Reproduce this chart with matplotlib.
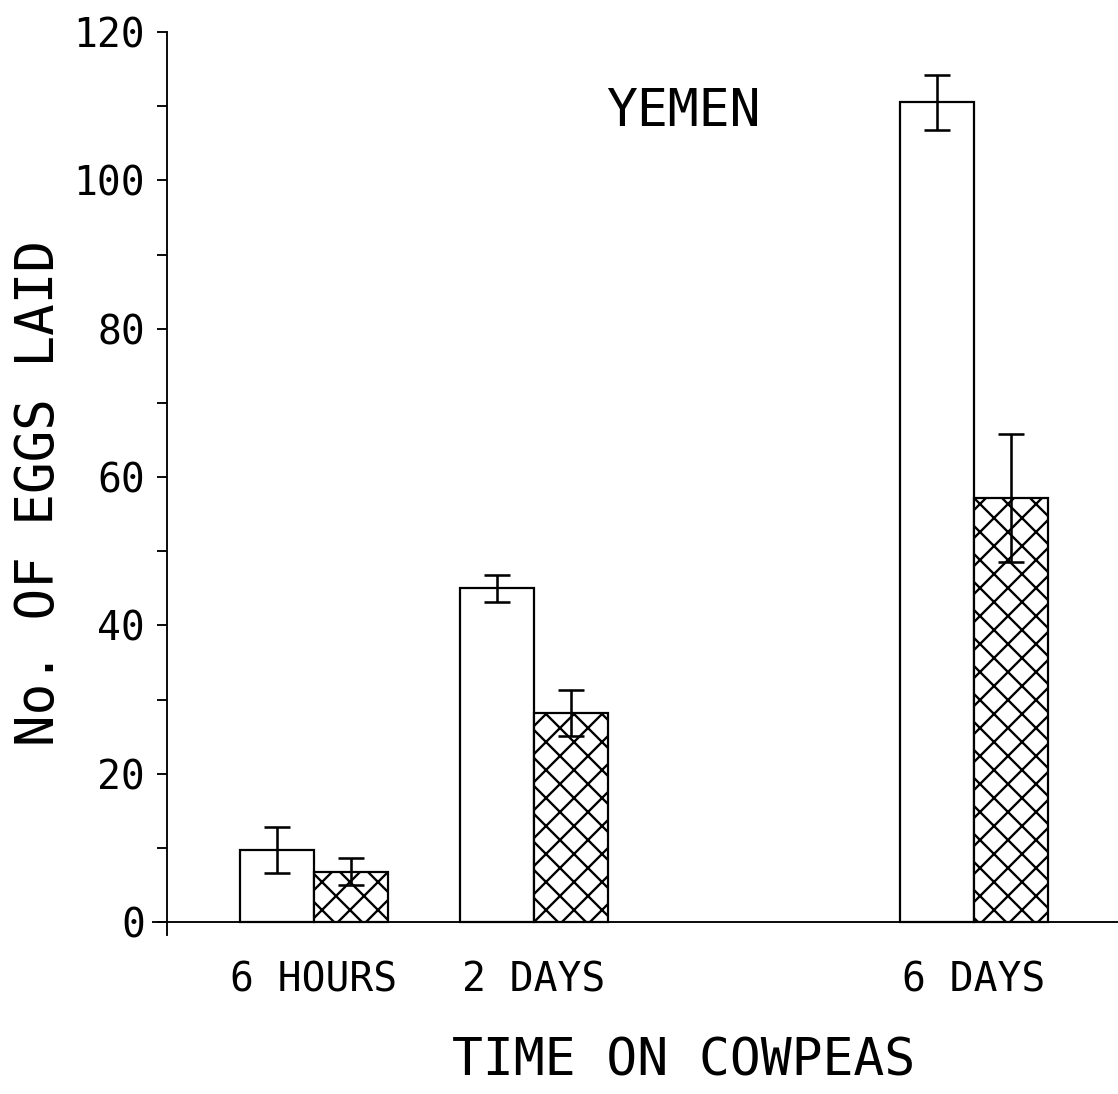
import numpy as np
import matplotlib
matplotlib.use("Agg")
import matplotlib.pyplot as plt

plt.rcParams['font.family'] = ['DejaVu Sans Mono']
plt.rcParams['hatch.linewidth'] = 1.0

# data
groups = ['6 HOURS', '2 DAYS', '6 DAYS']
group_pos = [0, 1, 3]
open_vals = [9.7, 45.0, 110.5]
open_err = [3.1, 1.85, 3.65]
hatch_vals = [6.8, 28.2, 57.2]
hatch_err = [1.85, 3.1, 8.6]
yticks = [0, 20, 40, 60, 80, 100, 120]

dpi = 168
fig = plt.figure(figsize=(1118 / dpi, 1094 / dpi), dpi=dpi)
# axes box in pixels: left 152, right 1118, top 32, bottom 935
ax = fig.add_axes([152 / 1118, (1094 - 935) / 1094, (1118 - 152) / 1118, (935 - 32) / 1094])

w = 0.336
x = np.array(group_pos, dtype=float)
ax.bar(x - w / 2, open_vals, width=w, color='white', edgecolor='black', linewidth=0.95, zorder=2)
ax.bar(x + w / 2, hatch_vals, width=w, color='white', edgecolor='black', linewidth=0.95,
       hatch='xx', zorder=2)
ax.errorbar(x - w / 2, open_vals, yerr=open_err, fmt='none', ecolor='black',
            elinewidth=1.1, capsize=5.5, capthick=1.1, zorder=3)
ax.errorbar(x + w / 2, hatch_vals, yerr=hatch_err, fmt='none', ecolor='black',
            elinewidth=1.1, capsize=5.5, capthick=1.1, zorder=3)

ax.axhline(0, color='black', linewidth=0.8, zorder=1)

ax.set_xlim(-0.736, 3.655)
ax.set_ylim(-1.75, 120)

for s in ['top', 'right', 'bottom']:
    ax.spines[s].set_visible(False)
ax.spines['left'].set_position(('data', -0.668))
ax.spines['left'].set_linewidth(0.8)

ax.set_yticks(yticks)
ax.set_yticks(np.arange(10, 120, 20), minor=True)
ax.tick_params(axis='y', which='both', direction='out', length=4.5, width=0.8,
               labelsize=17, pad=5)
ax.set_xticks(group_pos)
ax.set_xticklabels(groups)
ax.tick_params(axis='x', length=0, labelsize=17, pad=11)

ax.set_ylabel('No. OF EGGS LAID', fontsize=22.5)
ax.yaxis.set_label_coords(-0.09, 0.49)
ax.set_xlabel('TIME ON COWPEAS', fontsize=22, va='center')
ax.xaxis.set_label_coords(0.55, -0.14)

ax.text(1.677, 109.2, 'YEMEN', fontsize=22, ha='center', va='center')

fig.savefig('out.png', dpi=dpi)
